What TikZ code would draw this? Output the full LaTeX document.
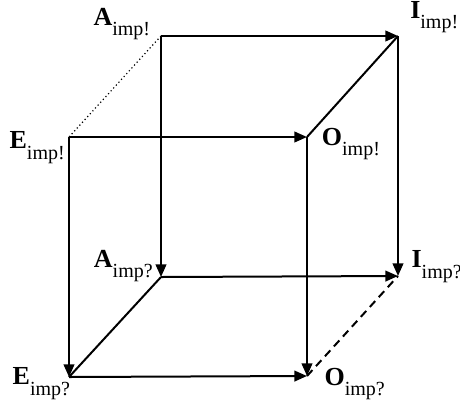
\documentclass[tikz,border=0pt]{standalone}
\usepackage{fontspec}
\setmainfont{Liberation Serif}
\usetikzlibrary{arrows.meta,positioning}

\newcommand{\implab}[2]{\textbf{#1}\raisebox{-0.4em}{\fontsize{15}{15}\selectfont imp#2}}

\begin{document}
\begin{tikzpicture}[
  x=0.75pt, y=-0.75pt,
  corner/.style={coordinate},
  lab/.style={inner sep=0pt, font=\fontsize{19.5}{19.5}\selectfont},
  arr/.style={line width=1.5pt, -{Triangle[length=9.5pt,width=8pt]}},
  side/.style={line width=1.5pt}
]
  \useasboundingbox (0,0) rectangle (460,401);
  % corners of the cube
  \node[corner] (Abang) at (161,36) {};
  \node[corner] (Ibang) at (398,36) {};
  \node[corner] (Ebang) at (69,137) {};
  \node[corner] (Obang) at (307,137) {};
  \node[corner] (Aq) at (161,277) {};
  \node[corner] (Iq) at (398,276) {};
  \node[corner] (Eq) at (69,377) {};
  \node[corner] (Oq) at (307,376) {};
  % labels
  \node[lab, anchor=south east, xshift=-8pt, yshift=-3pt] (labAbang) at (Abang) {\implab{A}{!}};
  \node[lab, anchor=south west, xshift=9pt, yshift=2pt] (labIbang) at (Ibang) {\implab{I}{!}};
  \node[lab, anchor=north east, xshift=-3pt, yshift=4pt] (labEbang) at (Ebang) {\implab{E}{!}};
  \node[lab, anchor=north west, xshift=11pt, yshift=7pt] (labObang) at (Obang) {\implab{O}{!}};
  \node[lab, anchor=south east, xshift=-6pt, yshift=-4pt] (labAq) at (Aq) {\implab{A}{?}};
  \node[lab, anchor=north west, xshift=10pt, yshift=19pt] (labIq) at (Iq) {\implab{I}{?}};
  \node[lab, anchor=north east, xshift=1pt, yshift=7pt] (labEq) at (Eq) {\implab{E}{?}};
  \node[lab, anchor=north west, xshift=13pt, yshift=6pt] (labOq) at (Oq) {\implab{O}{?}};
  % edges
  \draw[arr] (Abang) -- (Ibang);
  \draw[arr] (Ebang) -- (Obang);
  \draw[arr] (Aq) -- (Iq);
  \draw[arr] (Eq) -- (Oq);
  \draw[arr] (Abang) -- (Aq);
  \draw[arr] (Ebang) -- (Eq);
  \draw[arr] (Obang) -- (Oq);
  \draw[arr] (Ibang) -- (Iq);
  \draw[line width=0.9pt, dotted] (Abang) -- (Ebang);
  \draw[side] (Obang) -- (Ibang);
  \draw[side] (Aq) -- (Eq);
  \draw[side, dash pattern=on 6pt off 4pt] (Oq) -- (Iq);
\end{tikzpicture}
\end{document}
